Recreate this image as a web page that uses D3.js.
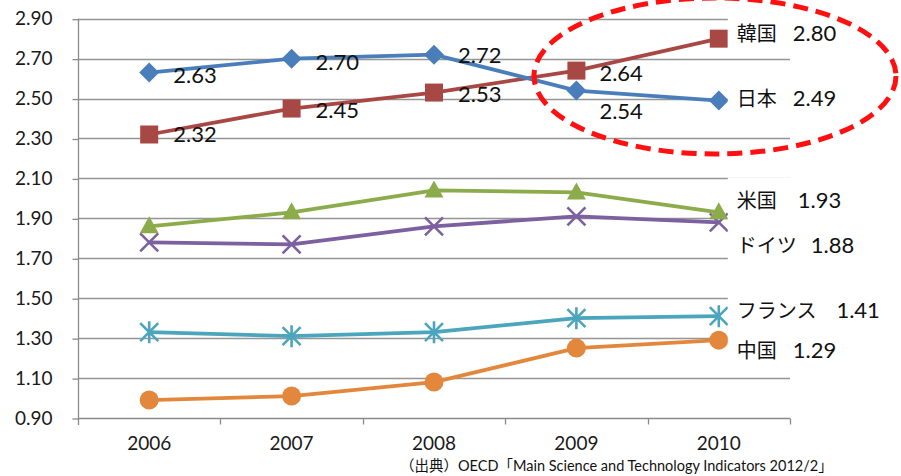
<!DOCTYPE html>
<html>
<head>
<meta charset="utf-8">
<script src="https://cdn.jsdelivr.net/npm/d3@7"></script>
<style>
  html, body { margin: 0; padding: 0; background: #fff; }
  svg { display: block; font-family: Lato, "Noto Sans CJK JP", sans-serif; }
  text { white-space: pre; }
</style>
</head>
<body>
<svg id="chart" width="901" height="476"></svg>
<script>
// Years on the category axis
const years = ["2006", "2007", "2008", "2009", "2010"];
// Y axis ticks
const yTicks = [0.9, 1.1, 1.3, 1.5, 1.7, 1.9, 2.1, 2.3, 2.5, 2.7, 2.9];

// Series names and values
const seriesNames = ["日本", "韓国", "米国", "ドイツ", "フランス", "中国"];
const japan   = [2.63, 2.70, 2.72, 2.54, 2.49];
const korea   = [2.32, 2.45, 2.53, 2.64, 2.80];
const usa     = [1.86, 1.93, 2.04, 2.03, 1.93];
const germany = [1.78, 1.77, 1.86, 1.91, 1.88];
const france  = [1.33, 1.31, 1.33, 1.40, 1.41];
const china   = [0.99, 1.01, 1.08, 1.25, 1.29];
const seriesValues = [japan, korea, usa, germany, france, china];

const sourceNote = "（出典）OECD「Main Science and Technology Indicators 2012/2」";

// Appearance per series
const colors  = ["#4A7EBB", "#A84845", "#8CAC4B", "#7D60A0", "#4AA5BD", "#E2873C"];
const markers = ["diamond", "square", "triangle", "x", "asterisk", "circle"];
// Which points carry a value label next to the marker, and where (dx, dy)
const pointLabels = [
  [[24, 2], [24, 3], [24, 0], [23, 21], null],
  [[24, 0], [24, 2], [24, 2], [23, 2], null]
];
// End-of-line name/value labels: vertical shift from last marker, gap to value
const endLabelDy  = [0, -3, -10, 25, -4, 12];
const endValueGap = [16, 16, 21, 14, 20, 16];
const endBoxTop   = [21, 21, 25, 21, 21, 21];

const svg = d3.select("#chart");
const x = d3.scaleBand().domain(years).range([78, 790]).padding(0);
const y = d3.scaleLinear().domain([0.9, 2.9]).range([418, 18.7]);
const cx = d => x(d) + x.bandwidth() / 2;

// Horizontal gridlines
svg.append("g").selectAll("line").data(yTicks.slice(1)).join("line")
  .attr("x1", 78).attr("x2", 790)
  .attr("y1", d => Math.round(y(d)) + 0.5).attr("y2", d => Math.round(y(d)) + 0.5)
  .attr("stroke", "#959595").attr("stroke-width", 1.3);

// Y axis
const yAxis = svg.append("g").attr("transform", "translate(78.5,0)")
  .call(d3.axisLeft(y).tickValues(yTicks).tickFormat(d3.format(".2f")).tickSize(6).tickPadding(20));
yAxis.select(".domain").attr("stroke", "#8a8a8a").attr("stroke-width", 1.3)
  .attr("d", `M0,${y(2.9)}V${y(0.9) + 7}`);
yAxis.selectAll(".tick line").attr("stroke", "#8a8a8a").attr("stroke-width", 1.3)
  .attr("y1", 0.5).attr("y2", 0.5);
yAxis.selectAll(".tick text").attr("font-size", 19).attr("fill", "#1a1a1a")
  .attr("font-family", "Lato, sans-serif");

// X axis with ticks on band boundaries
const xAxisG = svg.append("g").attr("transform", `translate(0,${Math.round(y(0.9)) + 0.5})`);
xAxisG.append("line").attr("x1", 78).attr("x2", 790).attr("stroke", "#8a8a8a").attr("stroke-width", 1.3);
const bounds = years.map(d => x(d)).concat([x(years[years.length - 1]) + x.bandwidth()]);
xAxisG.selectAll("line.tk").data(bounds.slice(1)).join("line").attr("class", "tk")
  .attr("x1", d => Math.round(d) + 0.5).attr("x2", d => Math.round(d) + 0.5)
  .attr("y1", 0).attr("y2", 6).attr("stroke", "#8a8a8a").attr("stroke-width", 1.3);
xAxisG.selectAll("text").data(years).join("text")
  .attr("x", d => cx(d)).attr("y", 31).attr("text-anchor", "middle")
  .attr("font-size", 19).attr("fill", "#1a1a1a").text(d => d);

// Marker shapes
function drawMarker(g, type, px, py, color) {
  const s = g.append("g").attr("transform", `translate(${px},${py})`);
  if (type === "diamond") {
    s.append("path").attr("d", "M0,-10L10,0L0,10L-10,0Z").attr("fill", color);
  } else if (type === "square") {
    s.append("rect").attr("x", -9).attr("y", -9).attr("width", 18).attr("height", 18).attr("fill", color);
  } else if (type === "triangle") {
    s.append("path").attr("d", "M0,-10L9.5,7L-9.5,7Z").attr("fill", color);
  } else if (type === "circle") {
    s.append("circle").attr("r", 9.5).attr("fill", color);
  } else if (type === "x") {
    s.append("path").attr("d", "M-9,-9L9,9M-9,9L9,-9").attr("stroke", color).attr("stroke-width", 2.6);
  } else if (type === "asterisk") {
    s.append("path").attr("d", "M-9,-9L9,9M-9,9L9,-9M0,-11V11")
      .attr("stroke", color).attr("stroke-width", 2.6);
  }
}

const line = d3.line().x((d, i) => cx(years[i])).y(d => y(d));
// Draw from the bottom series upward so the top lines sit above
for (let s = seriesValues.length - 1; s >= 0; s--) {
  const vals = seriesValues[s];
  const g = svg.append("g");
  g.append("path").datum(vals).attr("d", line).attr("fill", "none")
    .attr("stroke", colors[s]).attr("stroke-width", 3.8).attr("stroke-linejoin", "round");
  vals.forEach((v, i) => drawMarker(g, markers[s], cx(years[i]), y(v), colors[s]));
}

// Value labels on the Japan/Korea points
pointLabels.forEach((labels, s) => {
  labels.forEach((off, i) => {
    if (!off) return;
    const v = seriesValues[s][i];
    svg.append("text")
      .attr("x", cx(years[i]) + off[0]).attr("y", y(v) + off[1])
      .attr("dy", "0.36em").attr("font-size", 22).attr("fill", "#111")
      .attr("font-family", "Lato, sans-serif")
      .text(d3.format(".2f")(v));
  });
});

// End-of-line labels on white boxes: series name and its last value
const labelLeft = cx(years[years.length - 1]) + 9;
seriesNames.forEach((name, s) => {
  const vals = seriesValues[s];
  const last = vals[vals.length - 1];
  const ly = y(last) + endLabelDy[s];
  svg.append("rect")
    .attr("x", labelLeft).attr("y", ly - endBoxTop[s])
    .attr("width", 150).attr("height", endBoxTop[s] + 21)
    .attr("fill", "#fff");
  const t = svg.append("text")
    .attr("x", cx(years[years.length - 1]) + 18)
    .attr("y", ly).attr("dy", "0.36em")
    .attr("fill", "#111");
  t.append("tspan").attr("font-size", 20).attr("font-family", "'Noto Sans CJK JP', sans-serif").text(name);
  t.append("tspan").attr("dx", endValueGap[s]).attr("font-size", 22)
    .attr("font-family", "Lato, sans-serif").text(d3.format(".2f")(last));
});

// Dashed highlight ring around Japan and Korea in 2009–2010
svg.append("ellipse")
  .attr("cx", 715).attr("cy", 76).attr("rx", 181).attr("ry", 78)
  .attr("fill", "none").attr("stroke", "#FF1010").attr("stroke-width", 5)
  .attr("stroke-dasharray", "15 8");

// Source note
svg.append("text").attr("x", 400).attr("y", 471)
  .attr("font-size", 14.5).attr("fill", "#111").text(sourceNote);
</script>
</body>
</html>
